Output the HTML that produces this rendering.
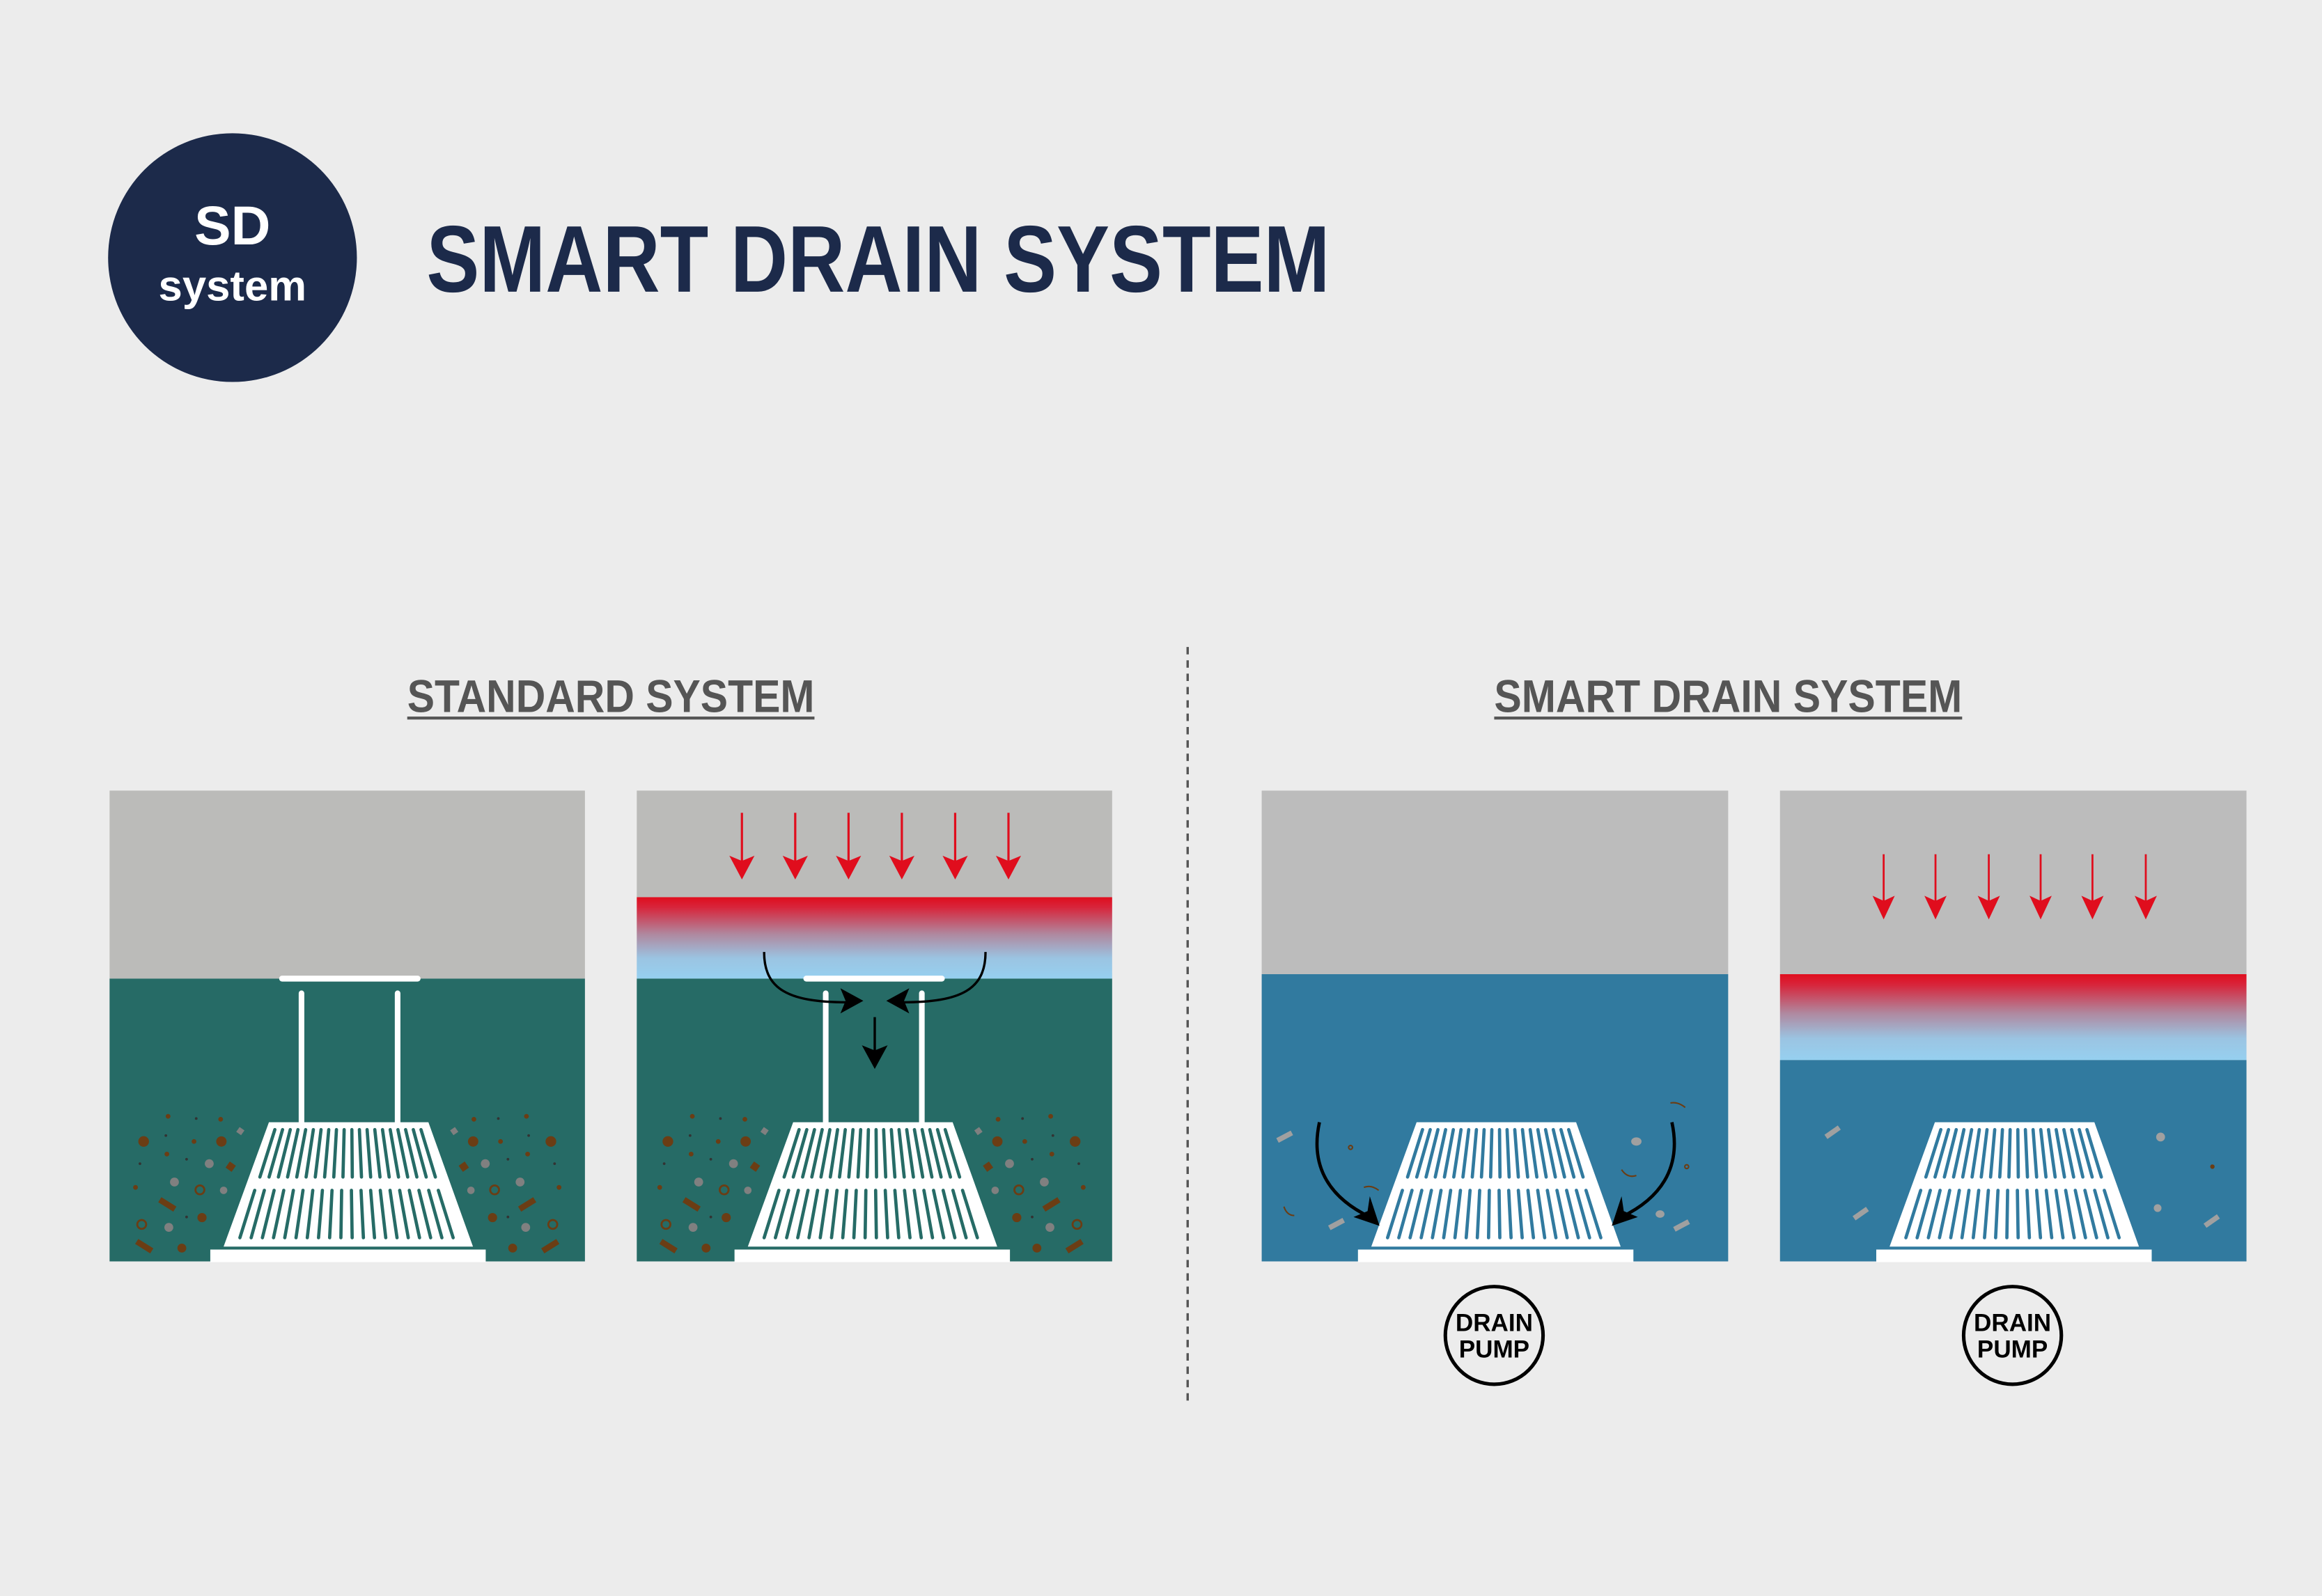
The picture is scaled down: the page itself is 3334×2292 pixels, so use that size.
<!DOCTYPE html>
<html><head><meta charset="utf-8"><style>
html,body{margin:0;padding:0;background:#ececec;}
svg{display:block;}
</style></head><body>
<svg width="3334" height="2292" viewBox="0 0 1568 1078" preserveAspectRatio="none" xmlns="http://www.w3.org/2000/svg">
<defs>
<linearGradient id="g1" x1="0" y1="0" x2="0" y2="1">
<stop offset="0" stop-color="#e00d1d"/>
<stop offset="0.12" stop-color="#d8243a"/>
<stop offset="0.45" stop-color="#b0879e"/>
<stop offset="0.75" stop-color="#9bc4e2"/>
<stop offset="1" stop-color="#96d0f0"/>
</linearGradient>
<g id="dr">
<polygon points="181.6,758 289.3,758 319.4,842 151,842" fill="#fff"/>
<rect x="142" y="844" width="186" height="8.5" fill="#fff"/>
<path stroke="currentColor" stroke-width="2.2" stroke-linecap="round" fill="none" d="
M185.6,763L175.5,795 M190.8,763L181.7,795 M196,763L188,795 M201.2,763L194.2,795 M206.4,763L200.4,795 M211.6,763L206.7,795 M216.8,763L212.9,795 M222,763L219.2,795 M227.2,763L225.4,795 M232.4,763L231.6,795 M237.6,763L237.9,795 M242.7,763L244.1,795 M247.9,763L250.3,795 M253.1,763L256.6,795 M258.3,763L262.8,795 M263.5,763L269.1,795 M268.7,763L275.3,795 M273.9,763L281.5,795 M279.1,763L287.8,795 M284.3,763L294,795
M172,804L162,836 M178.5,804L169.6,836 M185.1,804L177.2,836 M191.6,804L184.7,836 M198.1,804L192.3,836 M204.6,804L199.9,836 M211.2,804L207.5,836 M217.7,804L215.1,836 M224.2,804L222.6,836 M230.7,804L230.2,836 M237.3,804L237.8,836 M243.8,804L245.4,836 M250.3,804L252.9,836 M256.8,804L260.5,836 M263.4,804L268.1,836 M269.9,804L275.7,836 M276.4,804L283.3,836 M282.9,804L290.8,836 M289.5,804L298.4,836 M296,804L306,836"/>
</g>
<g id="posts" fill="#fff">
<rect x="188.5" y="659" width="95.5" height="4" rx="2"/>
<rect x="201.7" y="669" width="3.8" height="92" rx="1.9"/>
<rect x="266.6" y="669" width="3.8" height="92" rx="1.9"/>
</g>
<g id="deb">
<g fill="#6b3d14">
<circle cx="97" cy="771" r="3.6"/><circle cx="149.5" cy="771" r="3.5"/><circle cx="136.4" cy="822.4" r="3.1"/><circle cx="122.8" cy="843" r="3"/>
<circle cx="113.5" cy="754" r="1.6"/><circle cx="149" cy="756" r="1.6"/><circle cx="131" cy="771" r="1.6"/><circle cx="112.7" cy="779.5" r="1.6"/><circle cx="91.5" cy="802" r="1.6"/>
<rect x="107" y="811.5" width="12" height="4" transform="rotate(32 113 813.5)"/>
<rect x="91.4" y="839.7" width="12" height="4" transform="rotate(32 97.4 841.7)"/>
<rect x="153.3" y="785.5" width="5" height="5" transform="rotate(35 155.8 788)"/>
</g>
<g fill="#333"><circle cx="132.5" cy="755.5" r="0.9"/><circle cx="112" cy="767" r="0.9"/><circle cx="126" cy="783" r="0.9"/><circle cx="94.5" cy="786" r="0.9"/><circle cx="126" cy="822" r="0.9"/></g>
<g fill="#808080">
<circle cx="141.3" cy="786" r="3"/><circle cx="117.8" cy="798.4" r="3"/><circle cx="151" cy="804" r="2.5"/><circle cx="114" cy="829" r="3"/>
<rect x="160.3" y="762" width="4" height="4" transform="rotate(35 162.3 764)"/>
</g>
<g fill="none" stroke="#6b3d14" stroke-width="1.3"><circle cx="135" cy="803.7" r="3"/><circle cx="95.7" cy="827" r="3"/></g>
</g>
</defs>

<rect x="0" y="0" width="1568" height="1078" fill="#ececec"/>

<!-- Logo -->
<circle cx="157" cy="174" r="84" fill="#1c2a4a"/>
<text x="157" y="165" text-anchor="middle" font-family="Liberation Sans, sans-serif" font-weight="bold" font-size="37" fill="#fff">SD</text>
<text x="157" y="203" text-anchor="middle" font-family="Liberation Sans, sans-serif" font-weight="bold" font-size="29" fill="#fff">system</text>
<text x="288" y="197" textLength="610" lengthAdjust="spacingAndGlyphs" font-family="Liberation Sans, sans-serif" font-weight="bold" font-size="64" fill="#1c2a4a">SMART DRAIN SYSTEM</text>

<!-- headings -->
<text x="275" y="481" textLength="275" lengthAdjust="spacingAndGlyphs" font-family="Liberation Sans Narrow, Liberation Sans, sans-serif" font-weight="bold" font-size="31" fill="#555">STANDARD SYSTEM</text>
<rect x="275" y="484" width="275" height="2" fill="#555"/>
<text x="1009" y="481" textLength="316" lengthAdjust="spacingAndGlyphs" font-family="Liberation Sans Narrow, Liberation Sans, sans-serif" font-weight="bold" font-size="31" fill="#555">SMART DRAIN SYSTEM</text>
<rect x="1009" y="484" width="316" height="2" fill="#555"/>

<!-- divider -->
<line x1="802" y1="437" x2="802" y2="948" stroke="#555" stroke-width="1.6" stroke-dasharray="5,4"/>

<!-- Panel 1 -->
<rect x="74" y="534" width="321" height="127" fill="#bbbbb9"/>
<rect x="74" y="661" width="321" height="191" fill="#266b66"/>
<use href="#deb"/>
<g transform="translate(469,0) scale(-1,1)"><use href="#deb"/></g>
<use href="#posts"/>
<use href="#dr" style="color:#266b66"/>

<!-- Panel 2 -->
<rect x="430" y="534" width="321" height="72" fill="#bbbbb9"/>
<rect x="430" y="606" width="321" height="55" fill="url(#g1)"/>
<rect x="430" y="661" width="321" height="191" fill="#266b66"/>
<g transform="translate(354,0)">
<use href="#deb"/>
<g transform="translate(469,0) scale(-1,1)"><use href="#deb"/></g>
<use href="#posts"/>
<use href="#dr" style="color:#266b66"/>
</g>
<g stroke="#e00d1d" stroke-width="1.5">
<line x1="501" y1="549" x2="501" y2="584"/><line x1="537" y1="549" x2="537" y2="584"/><line x1="573" y1="549" x2="573" y2="584"/><line x1="609" y1="549" x2="609" y2="584"/><line x1="645" y1="549" x2="645" y2="584"/><line x1="681" y1="549" x2="681" y2="584"/>
</g>
<g fill="#e00d1d">
<path d="M501,594 L492.5,578 L501,581.5 L509.5,578Z"/><path d="M537,594 L528.5,578 L537,581.5 L545.5,578Z"/><path d="M573,594 L564.5,578 L573,581.5 L581.5,578Z"/><path d="M609,594 L600.5,578 L609,581.5 L617.5,578Z"/><path d="M645,594 L636.5,578 L645,581.5 L653.5,578Z"/><path d="M681,594 L672.5,578 L681,581.5 L689.5,578Z"/>
</g>
<g fill="none" stroke="#000" stroke-width="1.6">
<path d="M516,643 C516,668 532,677 572,677"/>
<path d="M665.5,643 C665.5,668 649.5,677 609.5,677"/>
<line x1="590.7" y1="687" x2="590.7" y2="712"/>
</g>
<g fill="#000">
<path d="M583,676 L567.5,667.5 L571,676 L567.5,684.5Z"/>
<path d="M598.5,676 L614,667.5 L610.5,676 L614,684.5Z"/>
<path d="M590.7,722 L582,706 L590.7,709.5 L599.4,706Z"/>
</g>

<!-- Panel 3 -->
<rect x="852" y="534" width="315" height="124" fill="#bcbcbc"/>
<rect x="852" y="658" width="315" height="194" fill="#317a9f"/>
<use href="#dr" transform="translate(775,0)" style="color:#317a9f"/>
<g fill="#a0a0a0">
<rect x="862" y="766" width="11" height="3.5" transform="rotate(-28 867.5 767.7)"/>
<rect x="897" y="825" width="11" height="3.5" transform="rotate(-28 902.5 826.7)"/>
<rect x="1130" y="826" width="11" height="3.5" transform="rotate(-28 1135.5 827.7)"/>
<ellipse cx="1105" cy="771" rx="3.5" ry="2.8"/><ellipse cx="1121" cy="820" rx="3" ry="2.5"/>
</g>
<g fill="none" stroke="#6b3d14" stroke-width="1">
<path d="M921,802 Q926,800 931,804"/><path d="M867,815 Q869,821 874,821"/><path d="M1128,745 Q1133,744 1138,748"/><path d="M1095,790 Q1099,796 1105,794"/>
<circle cx="912" cy="775" r="1.3"/><circle cx="1139" cy="788" r="1.3"/>
</g>
<g fill="none" stroke="#000" stroke-width="2.2">
<path d="M891,758 C884,790 900,810 925,822"/>
<path d="M1129,758 C1136,790 1120,810 1095,822"/>
</g>
<g fill="#000">
<path d="M931.6,828 L914,822 L923.5,818 L925,808Z"/>
<path d="M1088.4,828 L1106,822 L1096.5,818 L1095,808Z"/>
</g>
<circle cx="1009" cy="902" r="33" fill="none" stroke="#000" stroke-width="2.4"/>
<text x="1009" y="899" text-anchor="middle" font-family="Liberation Sans, sans-serif" font-weight="bold" font-size="16.5" fill="#000">DRAIN</text>
<text x="1009" y="917" text-anchor="middle" font-family="Liberation Sans, sans-serif" font-weight="bold" font-size="16.5" fill="#000">PUMP</text>

<!-- Panel 4 -->
<rect x="1202" y="534" width="315" height="124" fill="#bcbcbc"/>
<rect x="1202" y="658" width="315" height="58" fill="url(#g1)"/>
<rect x="1202" y="716" width="315" height="136" fill="#317a9f"/>
<use href="#dr" transform="translate(1125,0)" style="color:#317a9f"/>
<g stroke="#e00d1d" stroke-width="1.3">
<line x1="1272" y1="577" x2="1272" y2="610"/><line x1="1307" y1="577" x2="1307" y2="610"/><line x1="1343" y1="577" x2="1343" y2="610"/><line x1="1378" y1="577" x2="1378" y2="610"/><line x1="1413" y1="577" x2="1413" y2="610"/><line x1="1449" y1="577" x2="1449" y2="610"/>
</g>
<g fill="#e00d1d">
<path d="M1272,621 L1264.5,605 L1272,608.5 L1279.5,605Z"/><path d="M1307,621 L1299.5,605 L1307,608.5 L1314.5,605Z"/><path d="M1343,621 L1335.5,605 L1343,608.5 L1350.5,605Z"/><path d="M1378,621 L1370.5,605 L1378,608.5 L1385.5,605Z"/><path d="M1413,621 L1405.5,605 L1413,608.5 L1420.5,605Z"/><path d="M1449,621 L1441.5,605 L1449,608.5 L1456.5,605Z"/>
</g>
<g fill="#a0a0a0">
<rect x="1232" y="763" width="11" height="3.5" transform="rotate(-35 1237.5 764.7)"/>
<rect x="1251" y="818" width="11" height="3.5" transform="rotate(-35 1256.5 819.7)"/>
<rect x="1488" y="823" width="11" height="3.5" transform="rotate(-35 1493.5 824.7)"/>
<circle cx="1459" cy="768" r="3"/><circle cx="1457" cy="816" r="2.6"/>
</g>
<circle cx="1494" cy="788" r="1.5" fill="#6b3d14"/>
<circle cx="1359" cy="902" r="33" fill="none" stroke="#000" stroke-width="2.4"/>
<text x="1359" y="899" text-anchor="middle" font-family="Liberation Sans, sans-serif" font-weight="bold" font-size="16.5" fill="#000">DRAIN</text>
<text x="1359" y="917" text-anchor="middle" font-family="Liberation Sans, sans-serif" font-weight="bold" font-size="16.5" fill="#000">PUMP</text>
</svg>
</body></html>
